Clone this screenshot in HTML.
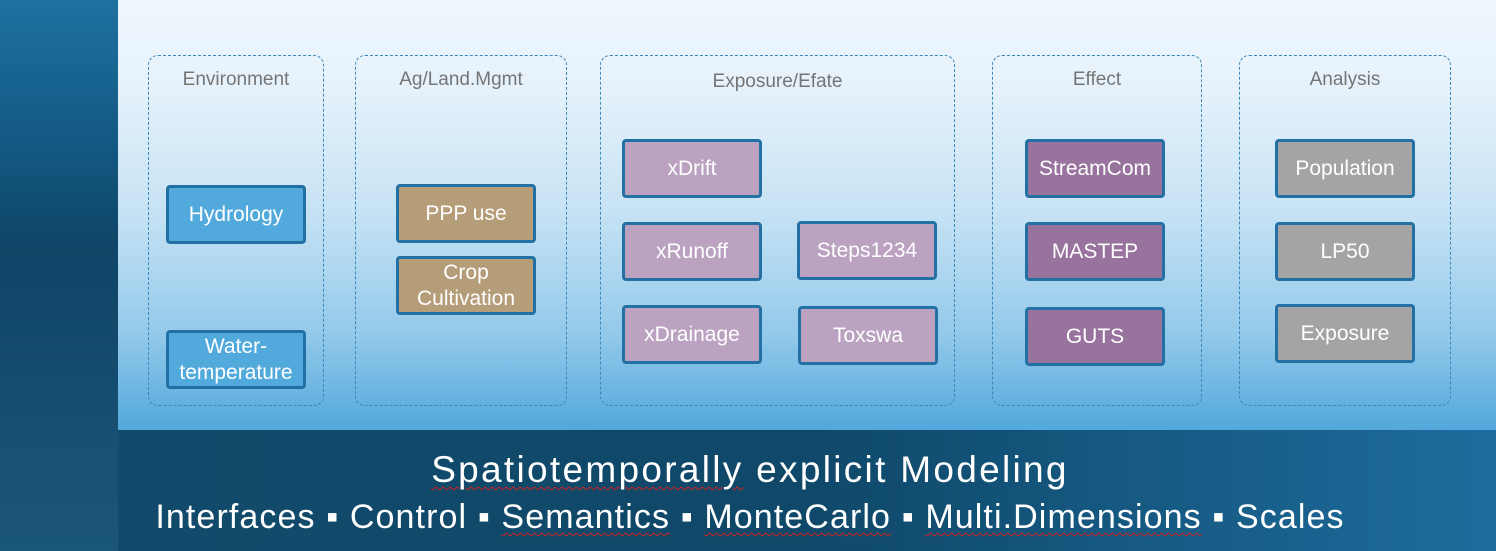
<!DOCTYPE html>
<html><head><meta charset="utf-8"><style>
*{margin:0;padding:0;box-sizing:border-box}
body{width:1496px;height:551px;position:relative;overflow:hidden;font-family:"Liberation Sans",sans-serif;background:#124a6c}
#left{position:absolute;left:0;top:0;width:118px;height:551px;background:linear-gradient(#1e71a1 0%,#135a84 25%,#0f4566 45%,#154d70 70%,#1a5679 100%)}
#main{position:absolute;left:118px;top:0;width:1378px;height:430px;background:linear-gradient(#eff6fd 0%,#e6f2fb 20%,#c5e2f4 50%,#92c9ea 78%,#52a8dc 100%)}
#bot{position:absolute;left:0;top:430px;width:1496px;height:121px;color:#fff;text-align:center}
#botbg{position:absolute;left:118px;top:430px;width:1378px;height:121px;background:linear-gradient(90deg,#124a6b 0%,#0f4869 50%,#1d6c9d 100%)}
.g{position:absolute;border:1.4px dashed #3b87b9;border-radius:10px;top:55px;height:351px}
.h{position:absolute;left:0;right:0;top:13px;text-align:center;color:#757575;font-size:19px}
.b{position:absolute;width:140px;height:59px;border:3px solid #2371a4;border-radius:4px;color:#fff;font-size:21px;display:flex;align-items:center;justify-content:center;text-align:center;line-height:26px}
.bl{background:#52a9dc}.br{background:#b69d79}.pl{background:#baa2c0}.pd{background:#98739d}.gr{background:#a4a4a4}
.u{text-decoration:underline wavy #d02020 1px;text-underline-offset:4px}
</style></head><body>
<div id="left"></div>
<div id="main"></div>
<div id="botbg"></div>
<div class="g" style="left:148px;width:176px"><div class="h">Environment</div></div>
<div class="g" style="left:355px;width:212px"><div class="h">Ag/Land.Mgmt</div></div>
<div class="g" style="left:600px;width:355px"><div class="h" style="top:15px">Exposure/Efate</div></div>
<div class="g" style="left:992px;width:210px"><div class="h">Effect</div></div>
<div class="g" style="left:1239px;width:212px"><div class="h">Analysis</div></div>

<div class="b bl" style="left:166px;top:185px">Hydrology</div>
<div class="b bl" style="left:166px;top:330px">Water-<br>temperature</div>
<div class="b br" style="left:396px;top:184px">PPP use</div>
<div class="b br" style="left:396px;top:256px">Crop<br>Cultivation</div>
<div class="b pl" style="left:622px;top:139px">xDrift</div>
<div class="b pl" style="left:622px;top:222px">xRunoff</div>
<div class="b pl" style="left:797px;top:221px">Steps1234</div>
<div class="b pl" style="left:622px;top:305px">xDrainage</div>
<div class="b pl" style="left:798px;top:306px">Toxswa</div>
<div class="b pd" style="left:1025px;top:139px">StreamCom</div>
<div class="b pd" style="left:1025px;top:222px">MASTEP</div>
<div class="b pd" style="left:1025px;top:307px">GUTS</div>
<div class="b gr" style="left:1275px;top:139px">Population</div>
<div class="b gr" style="left:1275px;top:222px">LP50</div>
<div class="b gr" style="left:1275px;top:304px">Exposure</div>

<div id="bot">
<div style="position:absolute;left:0;right:0;top:18px;font-size:37px;line-height:44px;letter-spacing:2.3px;margin-left:4px"><span class="u">Spatiotemporally</span> explicit Modeling</div>
<div style="position:absolute;left:0;right:0;top:66px;font-size:34px;line-height:42px;letter-spacing:1.1px;margin-left:4px">Interfaces ▪ Control ▪ <span class="u">Semantics</span> ▪ <span class="u">MonteCarlo</span> ▪ <span class="u">Multi.Dimensions</span> ▪ Scales</div>
</div>
</body></html>
